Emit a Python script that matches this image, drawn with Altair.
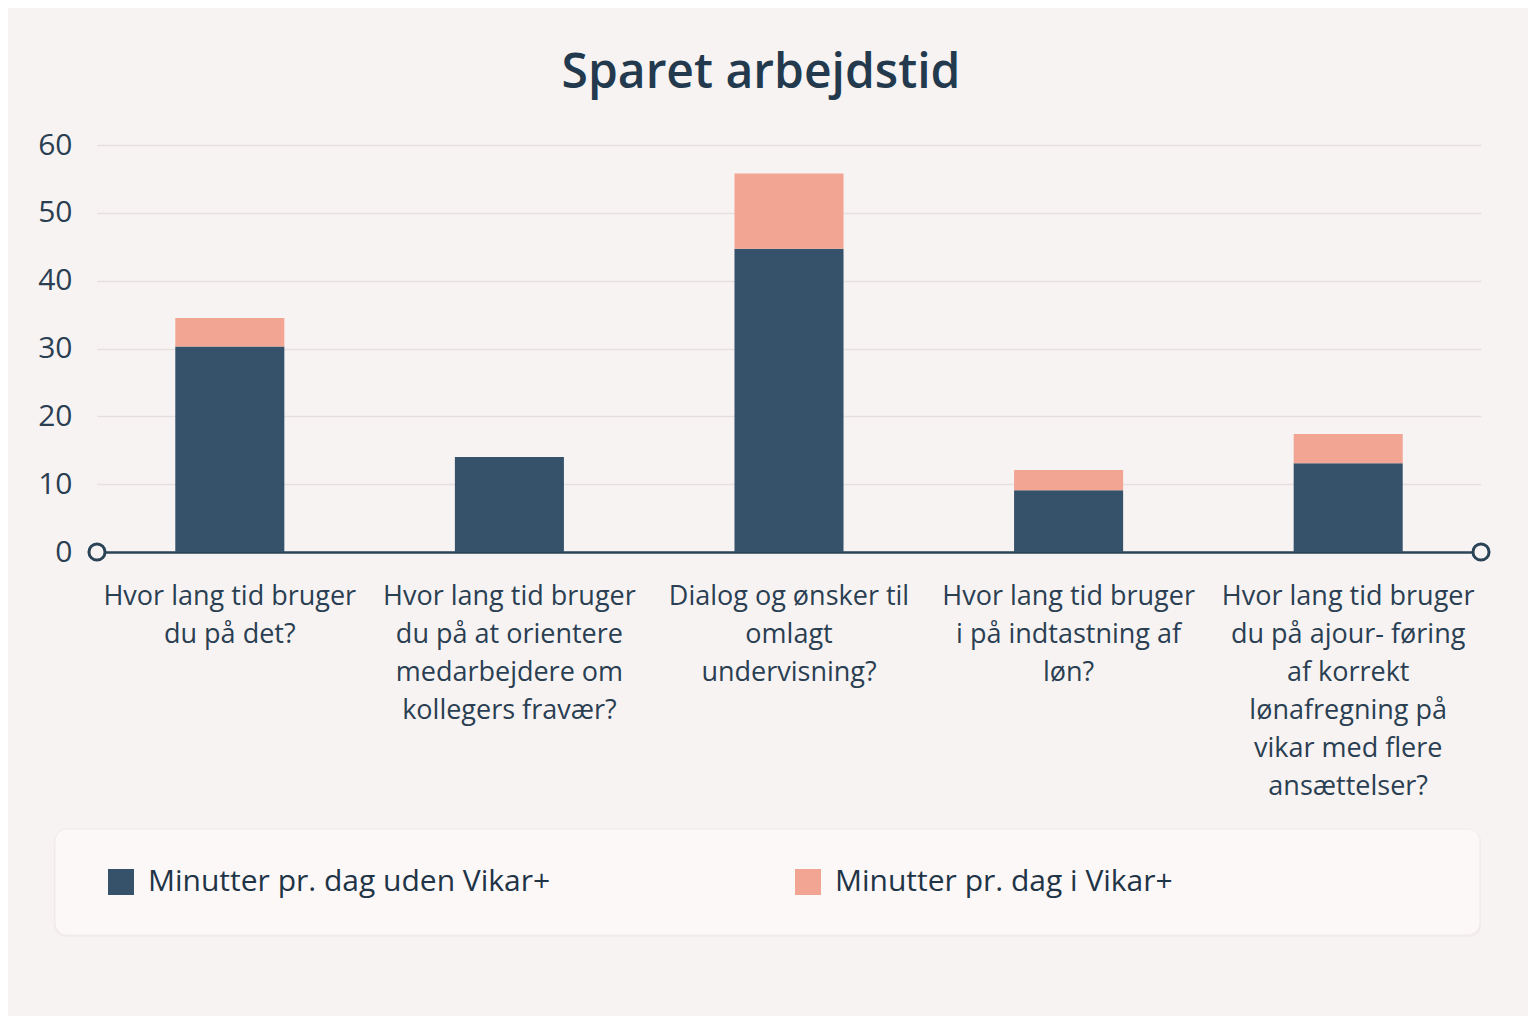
import altair as alt
import pandas as pd

categories = [
    "Hvor lang tid bruger\ndu på det?",
    "Hvor lang tid bruger\ndu på at orientere\nmedarbejdere om\nkollegers fravær?",
    "Dialog og ønsker  til\nomlagt\nundervisning?",
    "Hvor lang tid bruger\ni på indtastning af\nløn?",
    "Hvor lang tid bruger\ndu på ajour- føring\naf korrekt\nlønafregning på\nvikar med flere\nansættelser?",
]
series = ["Minutter pr. dag uden Vikar+", "Minutter pr. dag i Vikar+"]
uden_vikar = [30.3, 14.0, 44.7, 9.1, 13.1]
i_vikar = [4.2, 0.0, 11.1, 3.0, 4.3]
colors = ["#35526a", "#f3a593"]

rows = []
for c, a, b in zip(categories, uden_vikar, i_vikar):
    rows.append({"cat": c, "serie": series[0], "k": 0, "v": a})
    rows.append({"cat": c, "serie": series[1], "k": 1, "v": b})
df = pd.DataFrame(rows)

W, H = 1384, 407
BG = "#f8f3f3"
TXT = "#2a3f52"
FONT = "Open Sans"

one = pd.DataFrame({"a": [0]})

box_shadow = alt.Chart(one).mark_rect(fill="#efe8e8", cornerRadius=12, opacity=0.7).encode(
    x=alt.value(-43), x2=alt.value(1384), y=alt.value(685), y2=alt.value(792)
)
box = alt.Chart(one).mark_rect(fill="#fcf8f8", cornerRadius=12, stroke="#f1eaea", strokeWidth=1).encode(
    x=alt.value(-42), x2=alt.value(1383), y=alt.value(684), y2=alt.value(790)
)

bars = alt.Chart(df).mark_bar().encode(
    x=alt.X(
        "cat:N",
        sort=categories,
        title=None,
        scale=alt.Scale(paddingInner=0.61, paddingOuter=0.28),
        axis=alt.Axis(
            labelAngle=0,
            labelExpr="split(datum.label, '\\n')",
            labelLimit=400,
            labelOverlap=False,
            labelFontSize=27,
            labelLineHeight=38,
            labelPadding=31,
            labelColor=TXT,
            labelFont=FONT,
            ticks=False,
            domainColor="#2b4357",
            domainWidth=2.5,
            grid=False,
        ),
    ),
    y=alt.Y(
        "v:Q",
        stack="zero",
        title=None,
        scale=alt.Scale(domain=[0, 60], nice=False),
        axis=alt.Axis(
            values=[0, 10, 20, 30, 40, 50, 60],
            labelFontSize=30,
            labelColor=TXT,
            labelFont=FONT,
            labelPadding=25,
            ticks=False,
            domain=False,
            gridColor="#e6dfdf",
            gridWidth=1.5,
        ),
    ),
    color=alt.Color(
        "serie:N",
        sort=series,
        scale=alt.Scale(domain=series, range=colors),
        legend=alt.Legend(
            title=None,
            orient="none",
            legendX=9,
            legendY=722,
            direction="horizontal",
            symbolType="square",
            symbolSize=676,
            symbolStrokeWidth=0,
            symbolOpacity=1,
            labelFontSize=30,
            labelFont=FONT,
            labelColor="#1f3446",
            labelOffset=12,
            columnPadding=242,
            labelLimit=600,
        ),
    ),
    order=alt.Order("k:Q", sort="ascending"),
)

pt_left = alt.Chart(one).mark_point(shape="circle", filled=False, fill=BG, fillOpacity=1, stroke="#2b4357", strokeWidth=3, size=260, opacity=1).encode(
    x=alt.value(0), y=alt.value(H)
)
pt_right = alt.Chart(one).mark_point(shape="circle", filled=False, fill=BG, fillOpacity=1, stroke="#2b4357", strokeWidth=3, size=260, opacity=1).encode(
    x=alt.value(W), y=alt.value(H)
)

chart = alt.layer(box_shadow, box, bars, pt_left, pt_right).properties(
    width=W,
    height=H,
    autosize=alt.AutoSizeParams(type="none"),
    padding={"left": 89, "top": 137, "right": 47, "bottom": 464},
    title=alt.TitleParams(
        "Sparet arbejdstid",
        fontSize=48,
        fontWeight=600,
        font=FONT,
        color="#233a4e",
        anchor="middle",
        dx=-28,
        dy=6,
        offset=0,
        baseline="alphabetic",
    ),
).configure(background=BG).configure_view(stroke=None)

chart.save("out.html", embed_options={"renderer": "svg", "actions": False})
